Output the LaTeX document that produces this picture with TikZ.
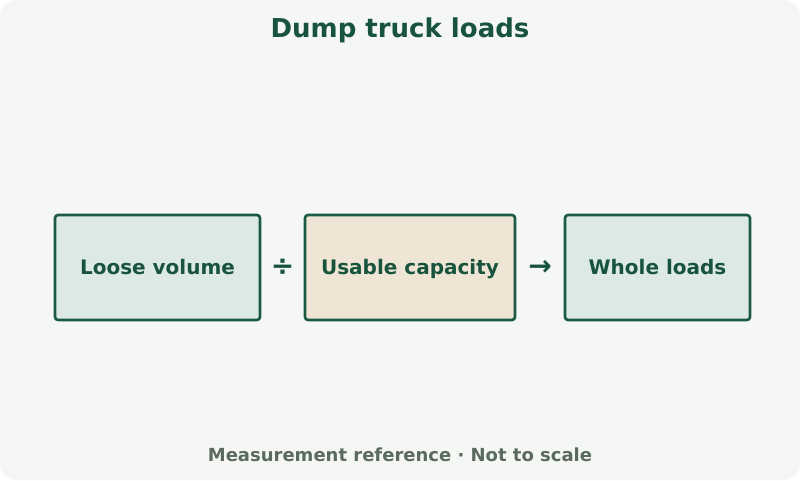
\documentclass[tikz,border=0pt]{standalone}
\usepackage{fontspec}
\setmainfont{DejaVu Sans}
\usetikzlibrary{positioning,calc}
\usepackage{xcolor}
\definecolor{ink}{HTML}{17533D}
\definecolor{edge}{HTML}{1B5A42}
\definecolor{paper}{HTML}{F5F7F4}
\definecolor{mint}{HTML}{DCEAE3}
\definecolor{sand}{HTML}{EFE5D5}
\definecolor{muted}{HTML}{5A6A61}

\begin{document}
\begin{tikzpicture}[x=1pt,y=1pt,
  stage/.style={draw=edge,line width=2.6pt,rounded corners=3pt,minimum height=105pt,
    inner sep=0pt,text height=16pt,text depth=3pt,font=\bfseries\fontsize{20}{24}\selectfont,text=ink},
  oper/.style={font=\bfseries\fontsize{28}{32}\selectfont,text=ink,inner sep=0pt}
]
  \fill[paper,rounded corners=16pt] (0,0) rectangle (800,480);
  \useasboundingbox (0,0) rectangle (800,480);
  \node[font=\bfseries\fontsize{26}{30}\selectfont,text=ink] (title) at (400,450) {Dump truck loads};
  \node[stage,fill=mint,minimum width=205pt] (loose) at (157.5,212.5) {Loose volume};
  \node[stage,fill=sand,minimum width=210pt] (usable) at (410,212.5) {Usable capacity};
  \node[stage,fill=mint,minimum width=185pt] (whole) at (657.5,212.5) {Whole loads};
  \node[oper] (divide) at ($(loose.east)!0.5!(usable.west)$) {÷};
  \node[oper] (gives) at ($(usable.east)!0.5!(whole.west)$) {→};
  \node[font=\bfseries\fontsize{18}{22}\selectfont,text=muted] (foot) at (400,25) {Measurement reference · Not to scale};
\end{tikzpicture}
\end{document}
